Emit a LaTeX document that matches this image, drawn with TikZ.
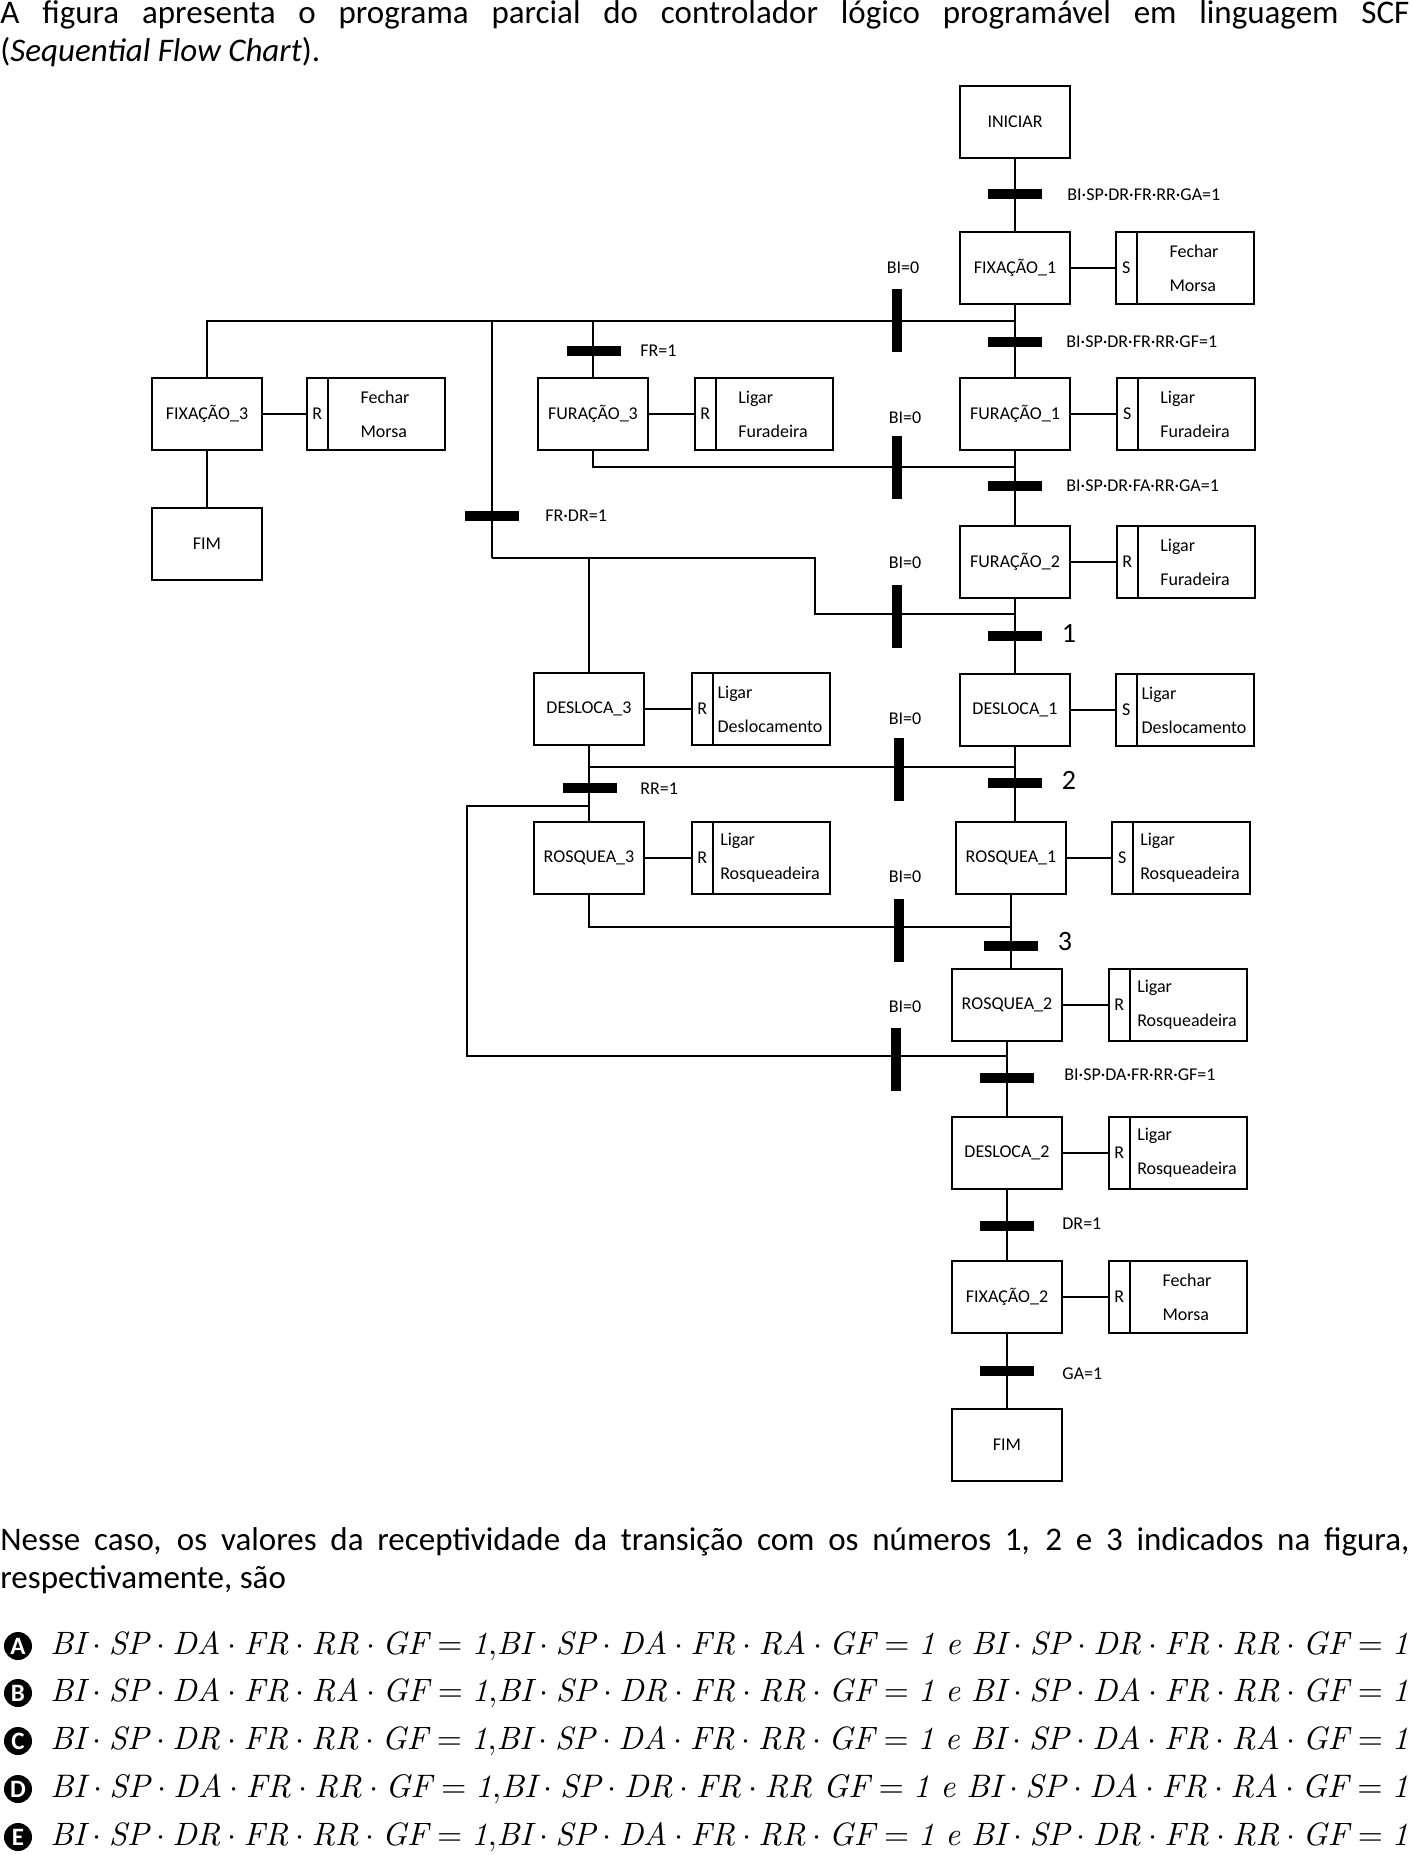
\documentclass[tikz,border=0pt]{standalone}
\usepackage{fontspec}
\usepackage{amsmath}
\usetikzlibrary{positioning}
\newfontfamily\calib{Carlito}
\newcommand{\rotfont}{\calib\fontsize{9}{17}\selectfont}
\newcommand{\textofont}{\calib\fontsize{16.5}{19}\selectfont}
\tikzset{
  linha/.style={line width=0.8pt},
  passo/.style={draw, line width=0.8pt, minimum width=55pt, minimum height=36pt, inner sep=0pt, font=\rotfont},
  acaobox/.style={draw, line width=0.8pt, minimum width=69pt, minimum height=36pt, inner sep=0pt},
  trans/.style={fill=black, minimum width=26.8pt, minimum height=4.8pt, inner sep=0pt},
  transv/.style={fill=black, minimum width=5pt, minimum height=31.5pt, inner sep=0pt},
  rotulo/.style={font=\rotfont, inner sep=0pt},
  numero/.style={font=\calib\fontsize{14}{14}\selectfont, inner sep=0pt},
  texto/.style={text width=704.5pt, align=justify, inner sep=0pt, font=\textofont},
  letra/.style={circle, fill=black, text=white, inner sep=0pt, minimum size=14pt, font=\calib\bfseries\fontsize{12.5}{12.5}\selectfont},
  opcao/.style={anchor=west, inner sep=0pt},
}
% caixa de acao: nome, posicao, qualificador, texto
\newcommand{\acao}[4]{%
  \node[acaobox] (#1) at #2 {};
  \draw[linha] ([xshift=11pt]#1.north west) -- ([xshift=11pt]#1.south west);
  \node[rotulo] at ([xshift=5.5pt]#1.west) {#3};
  \node[rotulo, align=left] at ([xshift=4.5pt]#1.center) {#4};
}

\begin{document}
\begin{tikzpicture}[x=0.5pt, y=-0.5pt]
    \useasboundingbox (0,0) rectangle (1409,1855);
    \fill[white] (0,0) rectangle (1409,1855);
    % Enunciado
    \node[texto, anchor=north west] (enunciado) at (0,0) {A figura apresenta o programa parcial do controlador lógico programável em linguagem SCF \linebreak (\textit{Sequential Flow Chart}).};

    % Sequencia principal
    \node[passo] (iniciar) at (1015,122) {INICIAR};
    \node[passo] (fix1) at (1015,268) {FIXAÇÃO\_1};
    \node[passo] (fur1) at (1015,414) {FURAÇÃO\_1};
    \node[passo] (fur2) at (1015,562) {FURAÇÃO\_2};
    \node[passo] (desl1) at (1015,710) {DESLOCA\_1};
    \node[passo] (rosq1) at (1011,858) {ROSQUEA\_1};
    \node[passo] (rosq2) at (1007,1005) {ROSQUEA\_2};
    \node[passo] (desl2) at (1007,1153) {DESLOCA\_2};
    \node[passo] (fix2) at (1007,1297) {FIXAÇÃO\_2};
    \node[passo] (fim) at (1007,1445) {FIM};

    % Ramos alternativos
    \node[passo] (fix3) at (207,414) {FIXAÇÃO\_3};
    \node[passo] (fim2) at (207,544) {FIM};
    \node[passo] (fur3) at (593,414) {FURAÇÃO\_3};
    \node[passo] (desl3) at (589,709) {DESLOCA\_3};
    \node[passo] (rosq3) at (589,858) {ROSQUEA\_3};

    % Acoes
    \acao{afix1}{(1185,268)}{S}{Fechar\\Morsa}
    \acao{afur1}{(1186,414)}{S}{Ligar\\Furadeira}
    \acao{afur2}{(1186,562)}{R}{Ligar\\Furadeira}
    \acao{adesl1}{(1185,710)}{S}{Ligar\\Deslocamento}
    \acao{arosq1}{(1181,858)}{S}{Ligar\\Rosqueadeira}
    \acao{arosq2}{(1178,1005)}{R}{Ligar\\Rosqueadeira}
    \acao{adesl2}{(1178,1153)}{R}{Ligar\\Rosqueadeira}
    \acao{afix2}{(1178,1297)}{R}{Fechar\\Morsa}
    \acao{afix3}{(376,414)}{R}{Fechar\\Morsa}
    \acao{afur3}{(764,414)}{R}{Ligar\\Furadeira}
    \acao{adesl3}{(761,709)}{R}{Ligar\\Deslocamento}
    \acao{arosq3}{(761,858)}{R}{Ligar\\Rosqueadeira}
    \foreach \p/\a in {fix1/afix1, fur1/afur1, fur2/afur2, desl1/adesl1, rosq1/arosq1, rosq2/arosq2, desl2/adesl2, fix2/afix2, fix3/afix3, fur3/afur3, desl3/adesl3, rosq3/arosq3}
        \draw[linha] (\p) -- (\a);

    % Juncoes
    \coordinate (j1) at (1015,321);
    \coordinate (j2) at (1015,467);
    \coordinate (j3) at (1015,614);
    \coordinate (j4) at (1015,767);
    \coordinate (j5) at (1011,927);
    \coordinate (j6) at (1007,1056);
    \coordinate (k1) at (492,558);
    \coordinate (k2) at (815,558);
    \coordinate (k3) at (467,806);

    % Ligacoes
    \draw[linha] (iniciar) -- (fix1);
    \draw[linha] (fix1) -- (fur1);
    \draw[linha] (fur1) -- (fur2);
    \draw[linha] (fur2) -- (desl1);
    \draw[linha] (desl1) -- (desl1 |- rosq1.north);
    \draw[linha] (rosq1) -- (rosq1 |- rosq2.north);
    \draw[linha] (rosq2) -- (desl2);
    \draw[linha] (desl2) -- (fix2);
    \draw[linha] (fix2) -- (fim);
    \draw[linha] (fix3) |- (j1);
    \draw[linha] (fix3) -- (fim2);
    \draw[linha] (fur3) -- (fur3 |- j1);
    \draw[linha] (k1) -- (k1 |- j1);
    \draw[linha] (fur3) |- (j2);
    \draw[linha] (j3) -| (k2) -- (k1);
    \draw[linha] (desl3) -- (desl3 |- k1);
    \draw[linha] (desl3) -- (rosq3);
    \draw[linha] (desl3) |- (j4);
    \draw[linha] (rosq3) |- (j5);
    \draw[linha] (rosq3 |- k3) -- (k3) |- (j6);

    % Transicoes
    \node[trans] (t0) at (1015,194) {};
    \node[trans] (t1) at (1015,342) {};
    \node[trans] (t2) at (1015,486) {};
    \node[trans] (t3) at (1015,636) {};
    \node[trans] (t4) at (1015,783) {};
    \node[trans] (t5) at (1011,946) {};
    \node[trans] (t6) at (1007,1078) {};
    \node[trans] (t7) at (1007,1226) {};
    \node[trans] (t8) at (1007,1371) {};
    \node[trans] (tfr) at (594,351) {};
    \node[trans] (tfrdr) at (492,516) {};
    \node[trans] (trr) at (590,788) {};
    \node[rotulo, anchor=west] (lt0) at (1067,195) {BI·SP·DR·FR·RR·GA=1};
    \node[rotulo, anchor=west] (lt1) at (1066,342) {BI·SP·DR·FR·RR·GF=1};
    \node[rotulo, anchor=west] (lt2) at (1066,486) {BI·SP·DR·FA·RR·GA=1};
    \node[numero] (lt3) at (1069,633) {1};
    \node[numero] (lt4) at (1069,780) {2};
    \node[numero] (lt5) at (1065,942) {3};
    \node[rotulo, anchor=west] (lt6) at (1064,1075) {BI·SP·DA·FR·RR·GF=1};
    \node[rotulo, anchor=west] (lt7) at (1062,1224) {DR=1};
    \node[rotulo, anchor=west] (lt8) at (1062,1374) {GA=1};
    \node[rotulo, anchor=west] (ltfr) at (640,351) {FR=1};
    \node[rotulo, anchor=west] (ltfrdr) at (545,516) {FR·DR=1};
    \node[rotulo, anchor=west] (ltrr) at (640,789) {RR=1};

    % Transicoes BI=0
    \node[transv] (bi1) at (897,321) {};
    \node[transv] (bi2) at (897,468) {};
    \node[transv] (bi3) at (897,616) {};
    \node[transv] (bi4) at (899,769) {};
    \node[transv] (bi5) at (899,930) {};
    \node[transv] (bi6) at (896,1059) {};
    \node[rotulo] (lbi1) at (903,268) {BI=0};
    \node[rotulo] (lbi2) at (905,418) {BI=0};
    \node[rotulo] (lbi3) at (905,563) {BI=0};
    \node[rotulo] (lbi4) at (905,719) {BI=0};
    \node[rotulo] (lbi5) at (905,877) {BI=0};
    \node[rotulo] (lbi6) at (905,1007) {BI=0};

    % Pergunta e alternativas
    \node[texto, anchor=north west] (pergunta) at (0,1527) {Nesse caso, os valores da receptividade da transição com os números 1, 2 e 3 indicados na figura, \linebreak respectivamente, são};
    \node[letra] (la) at (18,1646) {A};
    \node[letra] (lb) at (18,1693) {B};
    \node[letra] (lc) at (18,1741) {C};
    \node[letra] (ld) at (18,1789) {D};
    \node[letra] (le) at (18,1837) {E};
    \node[opcao] (oa) at (50,1646) {\resizebox{679pt}{!}{$\mathit{BI\cdot SP\cdot DA\cdot FR\cdot RR\cdot GF = 1{,}BI\cdot SP\cdot DA\cdot FR\cdot RA\cdot GF=1\ e\ BI\cdot SP\cdot DR\cdot FR\cdot RR\cdot GF=1}$}};
    \node[opcao] (ob) at (50,1693) {\resizebox{679pt}{!}{$\mathit{BI\cdot SP\cdot DA\cdot FR\cdot RA\cdot GF=1{,}BI\cdot SP\cdot DR\cdot FR\cdot RR\cdot GF=1\ e\ BI\cdot SP\cdot DA\cdot FR\cdot RR\cdot GF=1}$}};
    \node[opcao] (oc) at (50,1741) {\resizebox{679pt}{!}{$\mathit{BI\cdot SP\cdot DR\cdot FR\cdot RR\cdot GF=1{,}BI\cdot SP\cdot DA\cdot FR\cdot RR\cdot GF=1\ e\ BI\cdot SP\cdot DA\cdot FR\cdot RA\cdot GF=1}$}};
    \node[opcao] (od) at (50,1789) {\resizebox{679pt}{!}{$\mathit{BI\cdot SP\cdot DA\cdot FR\cdot RR\cdot GF=1{,}BI\cdot SP\cdot DR\cdot FR\cdot RR\ GF=1\ e\ BI\cdot SP\cdot DA\cdot FR\cdot RA\cdot GF=1}$}};
    \node[opcao] (oe) at (50,1837) {\resizebox{679pt}{!}{$\mathit{BI\cdot SP\cdot DR\cdot FR\cdot RR\cdot GF=1{,}BI\cdot SP\cdot DA\cdot FR\cdot RR\cdot GF=1\ e\ BI\cdot SP\cdot DR\cdot FR\cdot RR\cdot GF=1}$}};
\end{tikzpicture}
\end{document}
